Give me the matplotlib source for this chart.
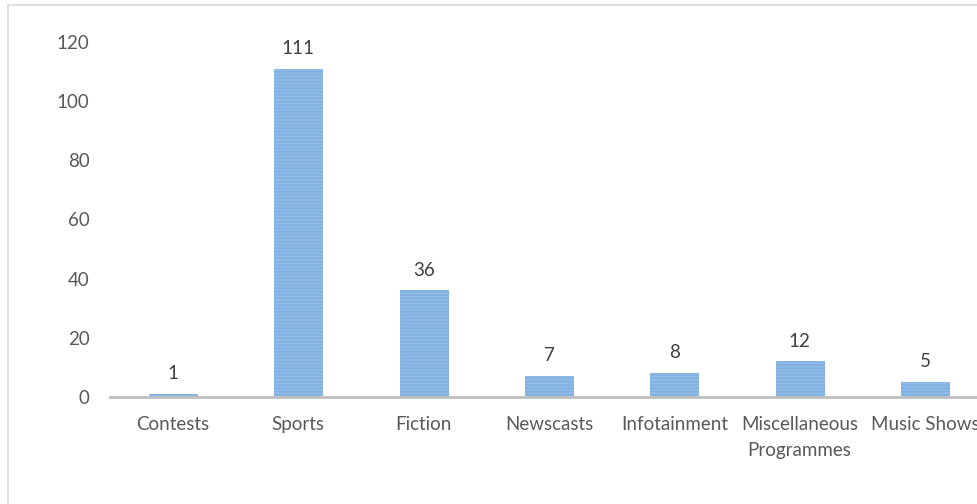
import matplotlib
matplotlib.use("Agg")
import matplotlib.pyplot as plt
from matplotlib.patches import Rectangle

# data
categories = ["Contests", "Sports", "Fiction", "Newscasts", "Infotainment",
              "Miscellaneous\nProgrammes", "Music Shows"]
counts = [1, 111, 36, 7, 8, 12, 5]
yticks = [0, 20, 40, 60, 80, 100, 120]

plt.rcParams['font.family'] = ['Lato', 'DejaVu Sans']
plt.rcParams['hatch.color'] = '#4A8BD2'
plt.rcParams['hatch.linewidth'] = 1.2

fig = plt.figure(figsize=(9.78, 5.04), dpi=100)
# chart frame (cut off on the right and bottom)
fig.patches.append(Rectangle((8 / 978, -0.1), 1.1, 1 - 5 / 504 + 0.1,
                             transform=fig.transFigure, fill=False,
                             edgecolor='#D9D9D9', linewidth=1.2))

ax = fig.add_axes([0.1128, 0.2123, 0.897, 0.7044])
x = list(range(len(categories)))
bars = ax.bar(x, counts, width=0.383, color='#93BDE8', edgecolor='#7FB0E0',
              linewidth=0.6, hatch='-----')

for xi, v in zip(x, counts):
    ax.text(xi, v + 4, str(v), ha='center', va='bottom', fontsize=13.5,
            color='#404040')

ax.set_xlim(-0.5, len(categories) - 0.5)
ax.set_ylim(0, 120)
ax.set_yticks(yticks)
ax.set_xticks(x)
ax.set_xticklabels(categories, fontsize=13.5, color='#595959', linespacing=1.6)
ax.tick_params(axis='y', labelsize=13.5, labelcolor='#595959', length=0, pad=15)
ax.tick_params(axis='x', length=0, pad=14)

for s in ['top', 'right', 'left']:
    ax.spines[s].set_visible(False)
ax.spines['bottom'].set_color('#BFBFBF')
ax.spines['bottom'].set_linewidth(2)

fig.savefig("out.png", dpi=100)
